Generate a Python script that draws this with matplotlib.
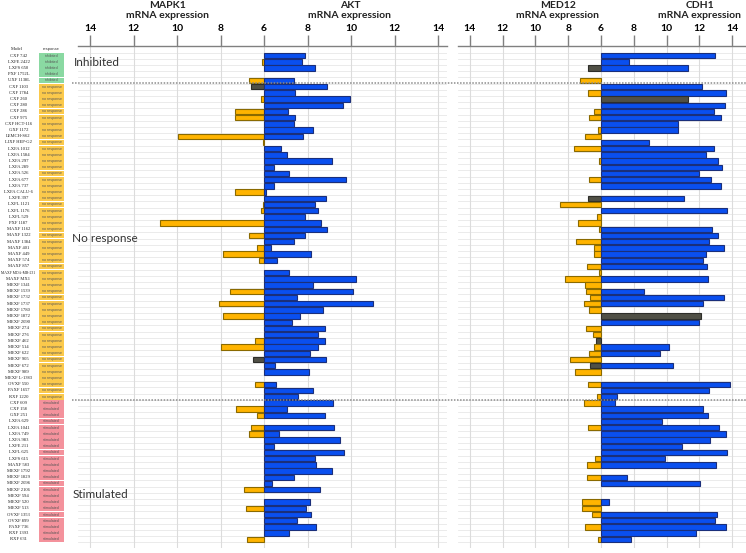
import matplotlib
matplotlib.use("Agg")
import matplotlib.pyplot as plt
from matplotlib.lines import Line2D
import numpy as np

N = None

# model names by response group
inhibited = ["CXF 742", "LXFE 2422", "LXFS 650", "PXF 1752L", "UXF 1138L"]
no_response = [
    "CXF 1103", "CXF 1784", "CXF 260", "CXF 280", "CXF 286", "CXF 975", "CXF HCT-116",
    "GXF 1172", "LEMCH-S62", "LIXF HEP-G2", "LXFA 1012", "LXFA 1584", "LXFA 297",
    "LXFA 289", "LXFA 526", "LXFA 677", "LXFA 737", "LXFA CALU-6", "LXFE 397",
    "LXFL 1121", "LXFL 1176", "LXFL 529", "PXF 1187", "MAXF 1162", "MAXF 1322",
    "MAXF 1384", "MAXF 401", "MAXF 449", "MAXF 574", "MAXF 857", "MAXF MDA-MB-231",
    "MAXF MX1", "MEXF 1341", "MEXF 1539", "MEXF 1732", "MEXF 1737", "MEXF 1780",
    "MEXF 1872", "MEXF 2090", "MEXF 274", "MEXF 276", "MEXF 462", "MEXF 514",
    "MEXF 622", "MEXF 905", "MEXF 672", "MEXF 989", "MEXF L-1383", "OVXF 550",
    "PAXF 1657", "RXF 1220",
]
stimulated = [
    "CXF 609", "CXF 158", "GXF 251", "LXFA 629", "LXFA 1041", "LXFA 749", "LXFA 983",
    "LXFE 211", "LXFL 625", "LXFS 615", "MAXF 583", "MEXF 1792", "MEXF 1829",
    "MEXF 2096", "MEXF 2106", "MEXF 594", "MEXF 520", "MEXF 513", "OVXF 1353",
    "OVXF 899", "PAXF 736", "RXF 1393", "RXF 631",
]

mapk1 = [N, 6.09, N, N, 6.71, 6.58, N, 6.12, N, 7.35,
         7.32, N, N, 9.95, 6.05, N, N, N, N, N,
         N, N, 7.32, N, 6.06, 6.15, N, 10.78, N, 6.71,
         N, 6.34, 7.88, 6.25, N, N, N, N, 7.57, N,
         8.06, N, 7.88, N, N, N, 6.4, 8.0, N, 6.49,
         N, N, N, 6.43, N, N, N, 7.29, 6.34, N,
         6.62, 6.71, N, N, N, N, N, N, N, N,
         6.9, N, N, 6.83, N, N, N, N, 6.8]
akt = [7.9, 7.77, 8.34, N, 7.4, 8.9, 7.43, 9.95, 9.63, 7.12,
       7.43, 7.4, 8.23, 7.8, N, 6.8, 7.05, 9.13, 6.45, 7.15,
       9.78, 6.45, 6.1, 8.85, 8.34, 8.5, 7.88, 8.6, 8.88, 7.88,
       7.4, 6.33, 8.14, 6.58, N, 7.15, 10.25, 8.23, 10.08, 7.52,
       11.03, 8.7, 7.65, 7.27, 8.8, 8.5, 8.8, 8.47, 8.1, 8.85,
       6.5, 8.05, N, 6.57, 8.23, 7.55, 9.17, 7.07, 8.8, N,
       9.2, 6.7, 9.5, 6.45, 9.66, 8.34, 8.39, 9.13, 7.4, 6.37,
       8.56, N, 8.1, 7.95, 8.16, 7.5, 8.37, 7.15, N]
med12 = [N, N, 6.82, N, 7.29, N, 6.78, N, N, 6.41,
         6.71, N, 6.18, 6.96, N, 7.65, N, 6.12, N, N,
         6.76, N, N, 6.78, 8.49, N, 6.27, 7.43, 6.14, N,
         7.53, 6.43, 6.43, N, 6.88, 6.12, 8.22, 7.0, 6.94, 6.65,
         7.02, 6.76, N, N, 6.9, 6.49, 6.33, 6.41, 6.71, 7.86,
         6.69, 7.6, N, 6.78, N, 6.27, 7.02, N, N, N,
         6.82, N, N, N, N, 6.37, 6.86, N, 6.88, N,
         N, N, 7.14, 7.14, 6.57, N, 6.98, N, 6.2]
cdh1 = [12.96, 7.7, 11.3, N, N, 12.17, 13.63, 11.3, 13.57, 12.9,
        13.3, 10.7, 10.7, N, 8.9, 12.92, 12.4, 13.15, 13.4, 11.97,
        12.68, 13.3, N, 11.05, N, 13.7, N, N, 12.78, 13.13,
        12.6, 13.5, 12.4, 12.2, 12.44, N, 12.5, N, 8.65, 13.47,
        12.2, N, 12.1, 11.97, N, N, N, 10.16, 9.6, N,
        10.38, N, N, 13.85, 12.6, 6.98, 6.83, 12.2, 12.5, 9.7,
        13.2, 13.6, 12.66, 10.96, 13.7, 9.9, 13.04, N, 7.57, 12.04,
        N, N, 6.5, N, 13.1, 12.98, 13.65, 11.8, 7.83]

# rows (1-based) whose bar is drawn dark grey
mapk1_grey = [6, 50]
akt_grey = []
med12_grey = [3, 24, 47, 51]
cdh1_grey = [8, 43]

tick_vals = [14, 12, 10, 8, 6, 8, 10, 12, 14]
baseline = 6

W, H = 746, 553
ORANGE, ORANGE_E = "#FFB400", "#8a6a00"
BLUE, BLUE_E = "#0A4FEF", "#1b2f7a"
GREY, GREY_E = "#505046", "#2e2e2a"
GRID = "#dcdcdc"


def fx(px):
    return px / W


def fy(py):
    return 1 - py / H


models = inhibited + no_response + stimulated
groups = ["inhibited"] * len(inhibited) + ["no response"] * len(no_response) + ["stimulated"] * len(stimulated)
n = len(models)
rows = np.arange(1, n + 1)

top_px, bot_px = 45.7, 548
r1_px, step = 55.7, 6.2
ylim = (1 + (bot_px - r1_px) / step, 1 - (r1_px - top_px) / step)

fig = plt.figure(figsize=(W / 100, H / 100), dpi=100)


def add_ax(x0, x1):
    return fig.add_axes([fx(x0), fy(bot_px), fx(x1) - fx(x0), fy(top_px) - fy(bot_px)])


def draw_panel(ax, left_vals, right_vals, left_grey, right_grey, center_px, scale, x0, x1):
    ax.set_ylim(*ylim)
    ax.set_xlim((x0 - center_px) / scale, (x1 - center_px) / scale)
    for r in range(0, n + 1):
        ax.axhline(r + 0.5, color="#e8e8e8", lw=0.6, zorder=0)
    for t in range(-8, 9, 2):
        ax.axvline(t, color=GRID, lw=0.8, zorder=0)
    for vals, grey, sign, col, ecol in [(left_vals, left_grey, -1, ORANGE, ORANGE_E),
                                          (right_vals, right_grey, 1, BLUE, BLUE_E)]:
        for i, v in enumerate(vals):
            if v is None:
                continue
            g = (i + 1) in grey
            ax.barh(i + 1, sign * (v - baseline), left=0, height=0.88,
                    color=GREY if g else col, edgecolor=GREY_E if g else ecol,
                    linewidth=0.8, zorder=3)
    ax.set_xticks(range(-8, 9, 2))
    ax.set_xticklabels([str(t) for t in tick_vals], fontfamily="Lato",
                       fontweight="bold", fontsize=7.5)
    ax.xaxis.set_ticks_position("top")
    ax.tick_params(axis="x", direction="out", length=8, width=1, color="#808080", pad=1.5)
    ax.set_yticks([])
    for s in ["left", "right", "bottom"]:
        ax.spines[s].set_visible(False)
    ax.spines["top"].set_color("#808080")
    ax.spines["top"].set_linewidth(1)


ax1 = add_ax(78, 447)
draw_panel(ax1, mapk1, akt, mapk1_grey, akt_grey, 264, 21.75, 78, 447)
ax2 = add_ax(458, 746)
draw_panel(ax2, med12, cdh1, med12_grey, cdh1_grey, 601, 16.4, 458, 746)

# model / response columns
ax0 = add_ax(0, 78)
ax0.set_xlim(0, 78)
ax0.set_ylim(*ylim)
ax0.axis("off")
box_cols = {"inhibited": "#8ad9a2", "no response": "#fbc94b", "stimulated": "#f4929c"}
ax0.barh(rows, 25, left=39, height=0.92, color=[box_cols[g] for g in groups], zorder=2)
for r, m, g in zip(rows, models, groups):
    fs = 3.3 if len(m) <= 11 else 2.7
    ax0.text(18.5, r, m, ha="center", va="center", fontsize=fs,
             fontfamily="Liberation Serif", color="#222222")
    ax0.text(51.5, r, g, ha="center", va="center", fontsize=2.6,
             fontfamily="Liberation Sans", color="#555555", zorder=3)
fig.text(fx(17), fy(49), "Model", ha="center", va="center", fontsize=3.3,
         fontfamily="Liberation Serif", color="#222222")
fig.text(fx(51.5), fy(49), "response", ha="center", va="center", fontsize=3.0,
         fontfamily="Liberation Sans", color="#333333")

# group separators
for ypx in [83.3, 400]:
    fig.add_artist(Line2D([fx(72), fx(746)], [fy(ypx), fy(ypx)], transform=fig.transFigure,
                          color="#8c8c8c", lw=1.1, linestyle=(0, (1, 1))))

# group labels
for txt, xp, yp in [("Inhibited", 74, 63), ("No response", 72, 239), ("Stimulated", 73, 494)]:
    fig.text(fx(xp), fy(yp), txt, ha="left", va="center", fontsize=8.5,
             fontfamily="Lato", color="#333333")

# panel titles
for name, xp in [("MAPK1", 168), ("AKT", 350), ("MED12", 558), ("CDH1", 700)]:
    fig.text(fx(xp), fy(5), name, ha="center", va="center", fontsize=7.5,
             fontfamily="Lato", fontweight="bold", color="#222222")
    fig.text(fx(xp), fy(16), "mRNA expression", ha="center", va="center", fontsize=7.5,
             fontfamily="Lato", fontweight="bold", color="#222222")

fig.savefig("out.png", dpi=100)
plt.close(fig)
